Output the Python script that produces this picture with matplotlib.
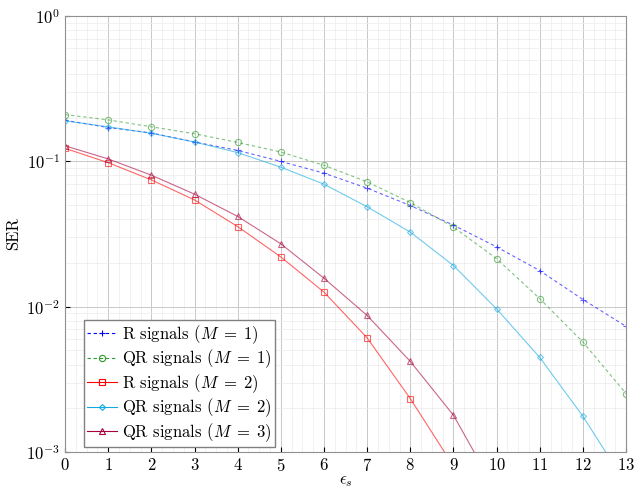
#!/usr/bin/env python3
# SER vs eps_s, log scale
import numpy as np
import matplotlib.pyplot as plt
from matplotlib.ticker import MultipleLocator, LogLocator

plt.rcParams['font.family'] = 'serif'
plt.rcParams['font.serif'] = ['cmr10', 'DejaVu Serif']
plt.rcParams['mathtext.fontset'] = 'cm'
plt.rcParams['axes.formatter.use_mathtext'] = True

eps = np.arange(0, 14)

r_m1 = [0.192, 0.171, 0.157, 0.136, 0.119, 0.100, 0.083, 0.0654, 0.0497, 0.0364,
        0.0258, 0.0177, 0.0112, 0.00732]
qr_m1 = [0.210, 0.193, 0.173, 0.155, 0.135, 0.116, 0.094, 0.0723, 0.0521, 0.0353,
         0.0214, 0.01135, 0.00571, 0.00252]
r_m2 = [0.123, 0.098, 0.0746, 0.0543, 0.0356, 0.0220, 0.0126, 0.0061, 0.00233, 0.0008]
qr_m2 = [0.190, 0.173, 0.156, 0.136, 0.115, 0.0912, 0.0697, 0.0487, 0.0326, 0.0192,
         0.00965, 0.00447, 0.00176, 0.0006]
qr_m3 = [0.128, 0.104, 0.0804, 0.0595, 0.0418, 0.0271, 0.0157, 0.0087, 0.0042, 0.00179,
         0.00053]

fig, ax = plt.subplots(figsize=(6.35, 4.88), dpi=100)
fig.subplots_adjust(left=0.1024, right=0.986, top=0.967, bottom=0.0738)

a = 0.6
ax.plot(eps, r_m1, '--', color='blue', alpha=a, lw=0.8, marker='+', ms=5, mew=0.8,
        dashes=(3, 2.5), label=r'R signals $(M\;=\;1)$')
ax.plot(eps, qr_m1, '--', color='#2e9a2e', alpha=a, lw=0.8, marker='o', ms=4.5, mew=0.8,
        dashes=(3, 2.5), mfc='none', label=r'QR signals $(M\;=\;1)$')
ax.plot(eps[:len(r_m2)], r_m2, '-', color='red', alpha=a, lw=0.8, marker='s', ms=4.5,
        mew=0.8, mfc='none', label=r'R signals $(M\;=\;2)$')
ax.plot(eps, qr_m2, '-', color='#12a8e0', alpha=a, lw=0.8, marker='D', ms=3, mew=0.8,
        mfc='none', label=r'QR signals $(M\;=\;2)$')
ax.plot(eps[:len(qr_m3)], qr_m3, '-', color='#a8003e', alpha=a, lw=0.8, marker='^', ms=4,
        mew=0.8, mfc='none', label=r'QR signals $(M\;=\;3)$')

ax.set_yscale('log')
ax.set_xlim(0, 13)
ax.set_ylim(1e-3, 1)
ax.set_xticks(range(0, 14))
ax.xaxis.set_minor_locator(MultipleLocator(0.25))
ax.yaxis.set_minor_locator(LogLocator(base=10, subs=np.arange(2, 10)))
ax.grid(True, which='major', color='#c8c8c8', lw=0.7)
ax.grid(True, which='minor', color='#ececec', lw=0.5)
ax.set_axisbelow(True)
ax.tick_params(which='both', direction='in', labelsize=12)
ax.tick_params(which='minor', length=0)
for s in ax.spines.values():
    s.set_color('#909090')

ax.set_xlabel(r'$\epsilon_s$', fontsize=12, labelpad=0)
ax.set_ylabel('SER', fontsize=12, labelpad=4)

leg = ax.legend(loc='lower left', fontsize=12, fancybox=False, framealpha=1,
                edgecolor='#808080', borderpad=0.2, labelspacing=0.1,
                handlelength=1.8, handletextpad=0.3, borderaxespad=0.3,
                bbox_to_anchor=(0.025, 0.0))
for h in leg.legend_handles:
    h.set_alpha(1)

plt.savefig('out.png', dpi=100)
